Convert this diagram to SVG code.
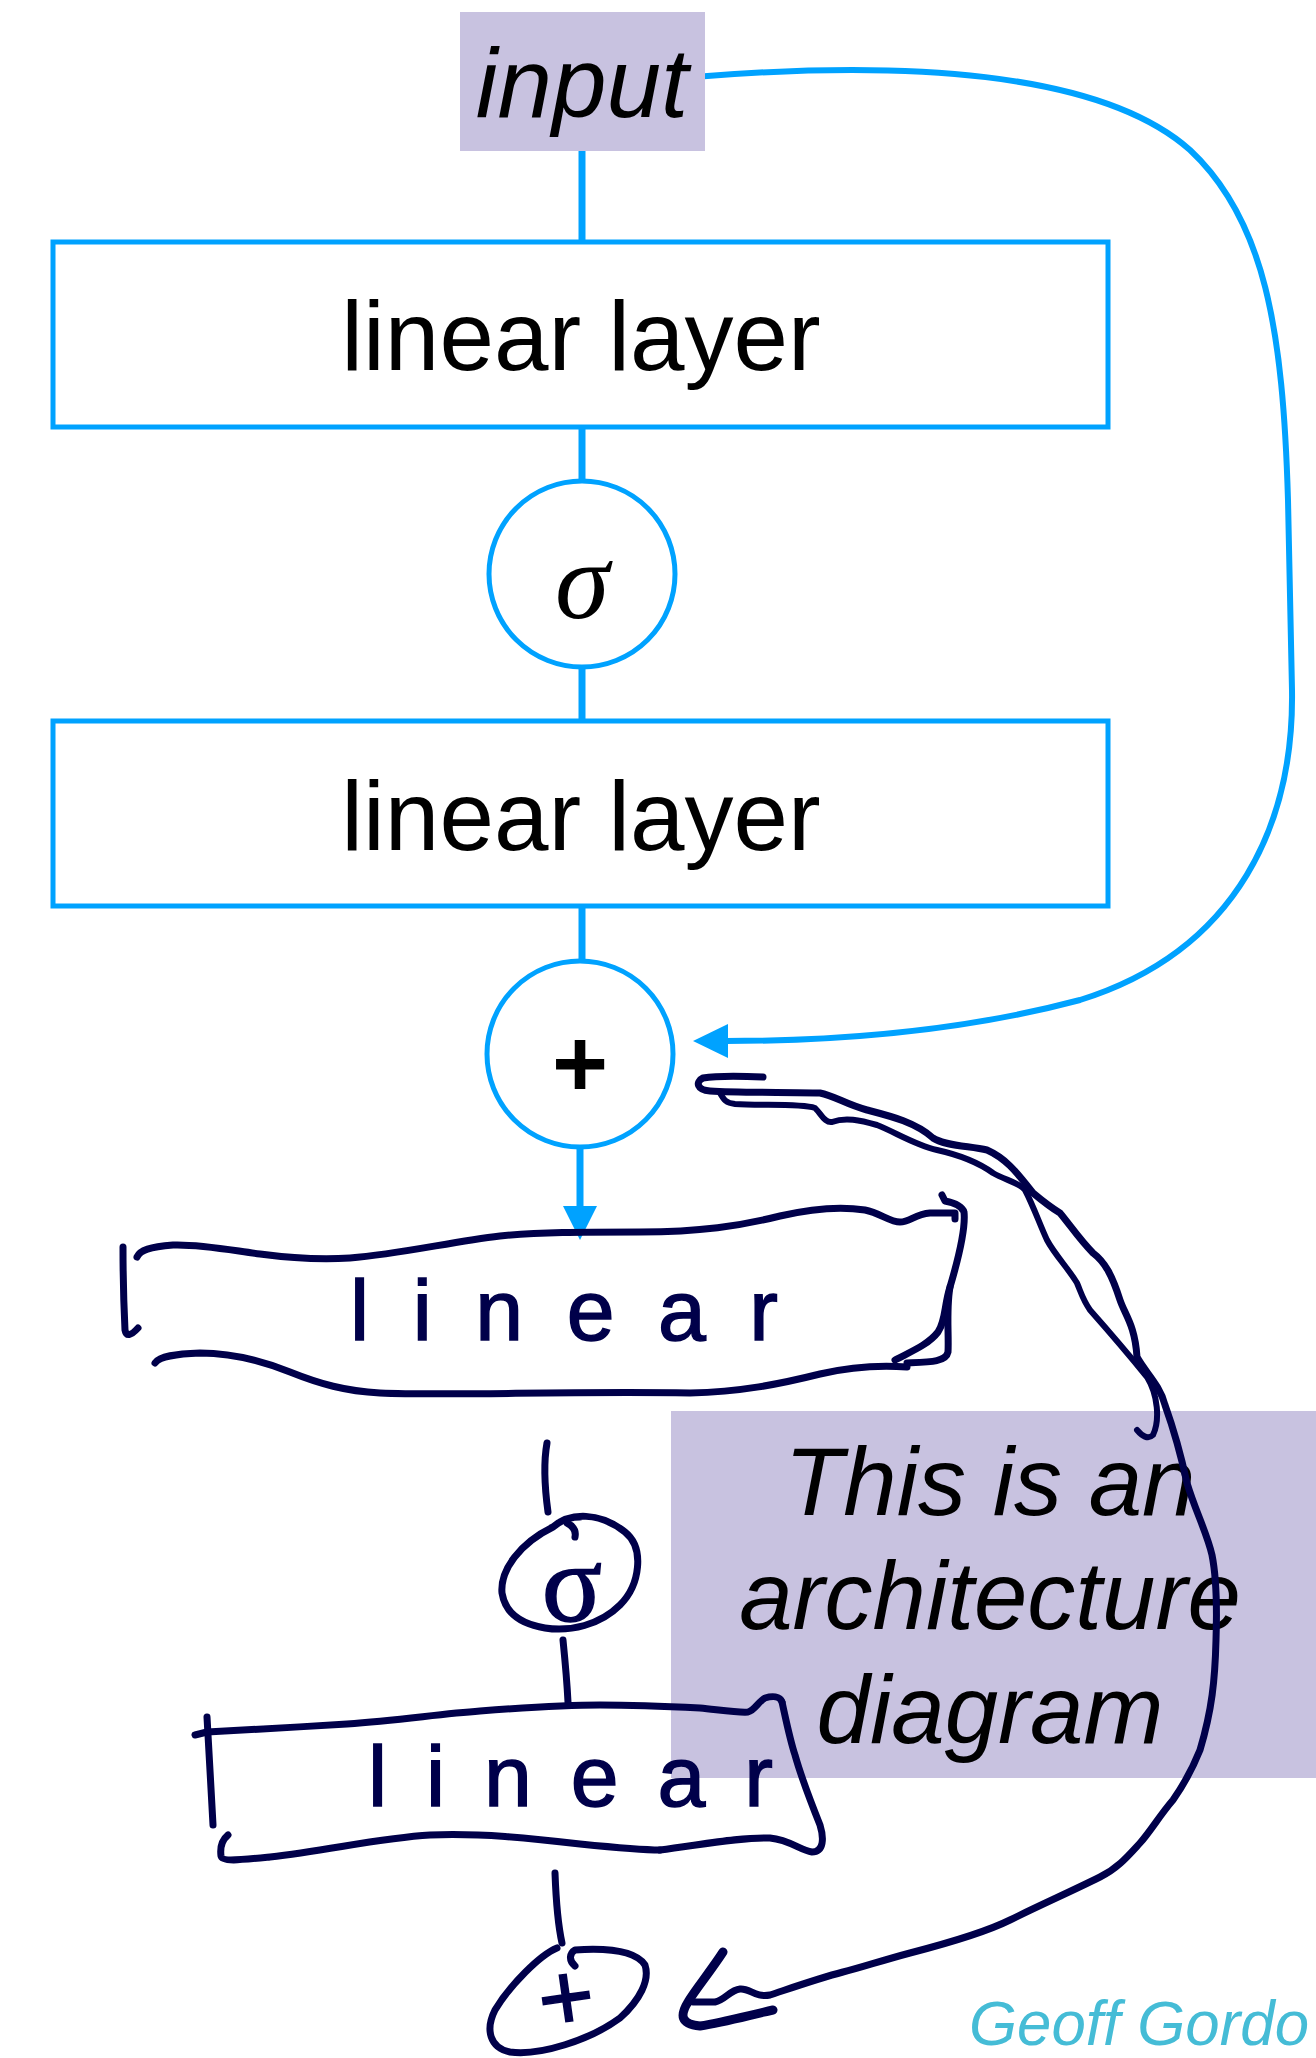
<svg xmlns="http://www.w3.org/2000/svg" width="1316" height="2058" viewBox="0 0 1316 2058">
<style>
.bx{fill:#fff;stroke:#00a2ff;stroke-width:5}
.bc{fill:#fff;stroke:#00a2ff;stroke-width:5}
.bl{fill:none;stroke:#00a2ff;stroke-width:7}
.bh{fill:#00a2ff;stroke:none}
.hd{fill:none;stroke:#00004a;stroke-width:7;stroke-linecap:round;stroke-linejoin:round}
.lbl{font-family:"Liberation Sans",Arial,sans-serif;font-size:98px;fill:#000}
.hw{font-family:"Liberation Sans",Arial,sans-serif;font-size:86px;fill:#00004a;stroke:#00004a;stroke-width:1.5}
.note{font-family:"Liberation Sans",Arial,sans-serif;font-size:96px;font-style:italic;fill:#000;text-anchor:middle}
</style>
<rect width="1316" height="2058" fill="#fff"/>

<g id="note">
  <rect x="671" y="1411" width="645" height="367" fill="#c8c2e0"/>
  <text class="note" x="990" y="1515">This is an</text>
  <text class="note" x="990" y="1629">architecture</text>
  <text class="note" x="990" y="1743">diagram</text>
</g>

<g id="credit">
  <text x="969" y="2045" font-family="'Liberation Sans',Arial,sans-serif" font-style="italic" font-size="63" fill="#45bcd6" textLength="340" lengthAdjust="spacingAndGlyphs">Geoff Gordo</text>
</g>

<g id="connectors">
  <line class="bl" x1="582" y1="151" x2="582" y2="242"/>
  <line class="bl" x1="582" y1="427" x2="582" y2="481"/>
  <line class="bl" x1="582" y1="667" x2="582" y2="721"/>
  <line class="bl" x1="582" y1="906" x2="582" y2="961"/>
  <line class="bl" x1="580" y1="1147" x2="580" y2="1208"/>
  <polygon class="bh" points="563,1206 597,1206 580,1240"/>
  <path class="bl" style="stroke-width:6" d="M 694 77 C 900 60, 1100 70, 1190 150 C 1265 220, 1283 330, 1288 500 L 1292 690 C 1294 820, 1240 950, 1080 1000 C 960 1032, 840 1041, 726 1041"/>
  <polygon class="bh" points="693,1041 728,1024 728,1058"/>

  <path class="hd" d="M 547 1443 C 543 1465, 545 1490, 548 1512"/>
  <path class="hd" d="M 563 1640 C 565 1660, 567 1682, 568 1702"/>
  <path class="hd" d="M 555 1873 C 556 1900, 558 1925, 562 1943"/>
  <path class="hd" d="M 763 1077 C 740 1076, 715 1076, 703 1078 C 695 1082, 697 1090, 710 1091 C 740 1093, 790 1092, 820 1093 C 835 1096, 845 1104, 867 1110 C 890 1116, 915 1122, 933 1138 C 945 1146, 970 1146, 987 1150 C 1005 1158, 1015 1170, 1033 1193 C 1045 1203, 1055 1210, 1060 1213 C 1070 1225, 1080 1240, 1093 1253 C 1105 1262, 1112 1275, 1120 1300 C 1125 1315, 1135 1325, 1137 1357 C 1145 1372, 1160 1385, 1165 1405 C 1175 1433, 1182 1460, 1187 1483 C 1195 1510, 1207 1533, 1212 1555 C 1217 1580, 1217 1610, 1216 1640 C 1215 1680, 1212 1710, 1200 1750 C 1190 1775, 1180 1790, 1173 1800 C 1160 1815, 1150 1832, 1140 1843 C 1128 1856, 1118 1868, 1100 1877 C 1070 1892, 1040 1905, 1010 1920 C 990 1930, 960 1940, 910 1953 C 880 1961, 860 1968, 843 1972 C 820 1978, 800 1985, 770 1995 C 755 1998, 750 1988, 740 1989 C 730 1990, 725 2000, 715 2002 L 693 2002"/>
  <path class="hd" style="stroke-width:6" d="M 720 1093 C 724 1100, 726 1103, 735 1104 C 760 1106, 800 1103, 815 1108 C 822 1115, 825 1123, 832 1122 C 845 1117, 860 1120, 877 1125 C 895 1132, 915 1145, 937 1150 C 955 1154, 975 1160, 993 1173 C 1005 1180, 1020 1183, 1025 1190 C 1033 1205, 1040 1225, 1047 1240 C 1055 1255, 1068 1268, 1077 1283 C 1082 1295, 1083 1300, 1090 1310 C 1105 1327, 1125 1350, 1147 1377 C 1158 1395, 1160 1420, 1153 1435 C 1148 1440, 1142 1436, 1137 1430"/>
  <path class="hd" style="stroke-width:9" d="M 723 1952 C 710 1972, 695 1990, 688 2002 C 680 2015, 680 2024, 700 2026 C 725 2022, 750 2015, 773 2010"/>
</g>

<g id="input">
  <rect x="460" y="12" width="245" height="139" fill="#c8c2e0"/>
  <text class="lbl" x="582" y="117" text-anchor="middle" font-style="italic">input</text>
</g>

<g id="linear1">
  <rect class="bx" x="53" y="242" width="1055" height="185"/>
  <text class="lbl" x="581" y="370" text-anchor="middle">linear layer</text>
</g>

<g id="sigma">
  <circle class="bc" cx="582" cy="574" r="93"/>
  <text x="582" y="618" text-anchor="middle" font-family="'Liberation Serif','Times New Roman',serif" font-style="italic" font-size="110" fill="#000">σ</text>
</g>

<g id="linear2">
  <rect class="bx" x="53" y="721" width="1055" height="185"/>
  <text class="lbl" x="581" y="850" text-anchor="middle">linear layer</text>
</g>

<g id="plus">
  <circle class="bc" cx="580" cy="1054" r="93"/>
  <text x="580" y="1097" text-anchor="middle" font-family="'Liberation Sans',Arial,sans-serif" font-weight="bold" font-size="96" fill="#000">+</text>
</g>

<g id="hand-linear1">
  <path class="hd" d="M 123 1247 C 123 1280, 124 1310, 125 1330 Q 127 1340 138 1328"/>
  <path class="hd" d="M 137 1257 C 140 1250, 150 1247, 173 1245 C 200 1244, 230 1250, 260 1254 C 290 1258, 320 1260, 350 1258 C 400 1254, 450 1242, 500 1236 C 540 1232, 580 1232, 640 1232 C 700 1232, 740 1226, 780 1216 C 810 1209, 840 1206, 865 1210 C 880 1213, 890 1222, 900 1222 C 910 1222, 915 1214, 930 1213 L 955 1213 L 955 1219"/>
  <path class="hd" d="M 942 1195 L 945 1201 C 955 1203, 962 1206, 964 1212 C 966 1230, 958 1260, 950 1287 C 944 1305, 946 1320, 938 1332 C 928 1345, 910 1352, 895 1360"/>
  <path class="hd" d="M 950 1287 C 946 1310, 949 1335, 948 1352 C 946 1362, 930 1362, 907 1363"/>
  <path class="hd" d="M 155 1363 C 160 1356, 175 1354, 200 1353 C 230 1353, 260 1360, 290 1372 C 320 1384, 345 1391, 380 1393 C 450 1396, 560 1391, 690 1393 C 740 1392, 780 1384, 820 1374 C 850 1367, 880 1365, 907 1367"/>
  <text class="hw" x="350" y="1340" textLength="428" lengthAdjust="spacing">linear</text>
</g>

<g id="hand-sigma">
  <path class="hd" d="M 553 1527 C 570 1512, 600 1512, 625 1532 C 645 1548, 640 1585, 620 1605 C 600 1625, 570 1632, 545 1628 C 520 1624, 505 1612, 502 1593 C 500 1570, 520 1543, 553 1527 C 560 1521, 568 1517, 580 1517"/>
  <path class="hd" d="M 567 1523 C 575 1527, 576 1532, 575 1537"/>
  <text x="572" y="1621" text-anchor="middle" font-family="'Liberation Serif','Times New Roman',serif" font-size="112" fill="#00004a" stroke="#00004a" stroke-width="1.5">σ</text>
</g>

<g id="hand-linear2">
  <path class="hd" d="M 207 1717 C 209 1750, 211 1790, 213 1825"/>
  <path class="hd" d="M 195 1735 L 207 1732 C 260 1729, 300 1727, 347 1724 C 400 1720, 440 1714, 480 1711 C 520 1708, 560 1705, 600 1705 C 640 1705, 660 1706, 700 1708 C 720 1710, 740 1713, 748 1712 C 755 1710, 758 1702, 765 1698 C 772 1696, 780 1696, 782 1702"/>
  <path class="hd" d="M 782 1702 C 786 1720, 790 1740, 795 1755 C 802 1780, 812 1805, 820 1825 C 824 1838, 824 1852, 812 1852 C 800 1850, 790 1840, 770 1838 C 740 1837, 700 1845, 660 1850"/>
  <path class="hd" d="M 228 1835 C 222 1840, 220 1848, 221 1856 C 222 1862, 240 1860, 270 1857 C 330 1850, 380 1838, 430 1835 C 480 1833, 530 1838, 580 1844 C 620 1848, 640 1850, 660 1850"/>
  <text class="hw" x="368" y="1806" textLength="405" lengthAdjust="spacing">linear</text>
</g>

<g id="hand-plus">
  <path class="hd" d="M 557 1948 C 540 1955, 510 1985, 495 2010 C 485 2030, 490 2048, 510 2052 C 540 2056, 590 2040, 620 2018 C 640 2000, 650 1980, 645 1965 C 635 1950, 605 1948, 575 1950 C 570 1953, 568 1960, 575 1966"/>
  <text x="566" y="2030" text-anchor="middle" font-family="'Liberation Sans',Arial,sans-serif" font-size="96" fill="#00004a" stroke="#00004a" stroke-width="1.5" transform="rotate(-8 566 1997)">+</text>
</g>
</svg>
